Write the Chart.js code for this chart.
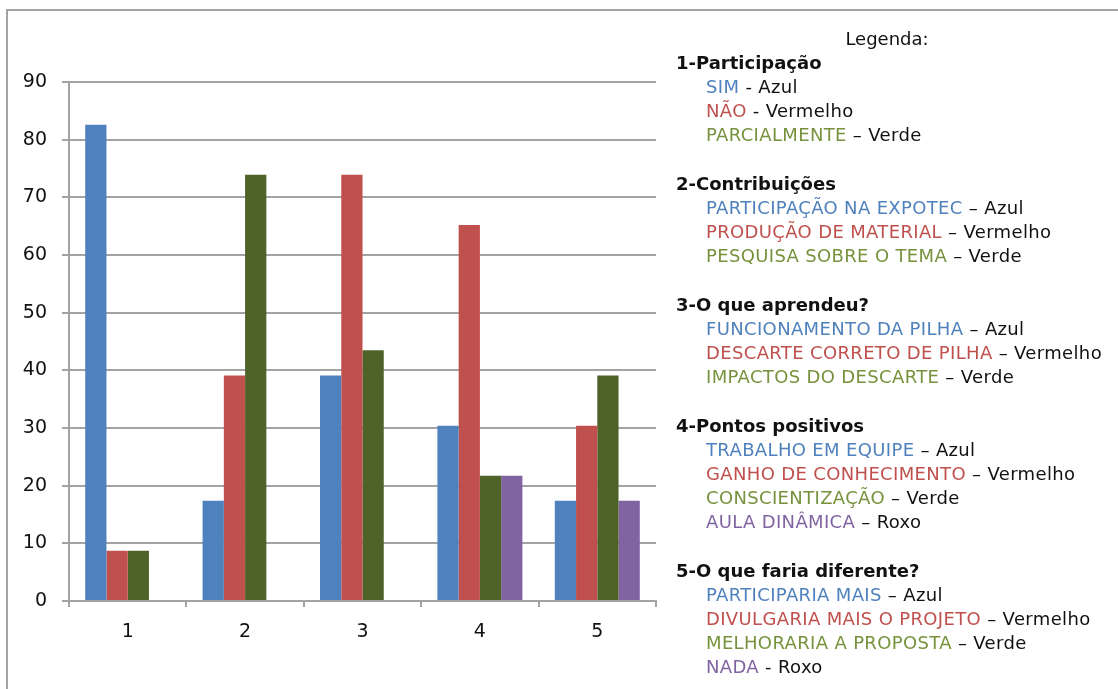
<!DOCTYPE html>
<html>
<head>
<meta charset="utf-8">
<script src="https://cdn.jsdelivr.net/npm/chart.js@4/dist/chart.umd.min.js"></script>
<style>
  html, body { margin: 0; padding: 0; background: #fff; }
  body { width: 1118px; height: 689px; position: relative; overflow: hidden; font-family: "DejaVu Sans", sans-serif; }
  #frame { position: absolute; left: 6px; top: 9px; width: 1200px; height: 800px; border-top: 2px solid #a3a3a3; border-left: 2px solid #a3a3a3; }
  #wrap { position: absolute; left: 0; top: 0; width: 1118px; height: 689px; }
  #legend { position: absolute; left: 676px; top: 27px; width: 440px; color: #111; }
  #legend .title { width: 422px; text-align: center; font-size: 18px; line-height: 24px; height: 24px; }
  #legend .head { font-weight: bold; font-size: 18px; line-height: 24px; height: 24px; }
  #legend .item { padding-left: 30px; font-size: 18px; letter-spacing: 0.35px; line-height: 24px; height: 24px; white-space: nowrap; }
  #legend .gap { height: 25px; }
</style>
</head>
<body>
<div id="frame"></div>
<div id="wrap"><canvas id="chart"></canvas></div>
<div id="legend"></div>
<script>
// categories and values (percent of 23 students)
var categories = ['1', '2', '3', '4', '5'];
var azul     = [82.6, 17.4, 39.1, 30.4, 17.4];
var vermelho = [8.7, 39.1, 73.9, 65.2, 30.4];
var verde    = [8.7, 73.9, 43.5, 21.7, 39.1];
var roxo     = [null, null, null, 21.7, 17.4];
var yTicks   = [0, 10, 20, 30, 40, 50, 60, 70, 80, 90];

// legend text
var legendTitle = 'Legenda:';
var sectionTitles = ['1-Participação', '2-Contribuições', '3-O que aprendeu?', '4-Pontos positivos', '5-O que faria diferente?'];
var sectionItems = [
    [['SIM', ' - Azul'], ['NÃO', ' - Vermelho'], ['PARCIALMENTE', ' – Verde']],
    [['PARTICIPAÇÃO NA EXPOTEC', ' – Azul'], ['PRODUÇÃO DE MATERIAL', ' – Vermelho'], ['PESQUISA SOBRE O TEMA', ' – Verde']],
    [['FUNCIONAMENTO DA PILHA', ' – Azul'], ['DESCARTE CORRETO DE PILHA', ' – Vermelho'], ['IMPACTOS DO DESCARTE', ' – Verde']],
    [['TRABALHO EM EQUIPE', ' – Azul'], ['GANHO DE CONHECIMENTO', ' – Vermelho'], ['CONSCIENTIZAÇÃO', ' – Verde'], ['AULA DINÂMICA', ' – Roxo']],
    [['PARTICIPARIA MAIS', ' – Azul'], ['DIVULGARIA MAIS O PROJETO', ' – Vermelho'], ['MELHORARIA A PROPOSTA', ' – Verde'], ['NADA', ' - Roxo']]
];

var barColors  = ['#4f81bd', '#c0504d', '#4f6228', '#8064a2'];
var textColors = ['#4f81bd', '#c0504d', '#76923c', '#8064a2'];

function buildLegend() {
    var el = document.getElementById('legend');
    var html = '<div class="title">' + legendTitle + '</div>';
    sectionTitles.forEach(function(t, i) {
        if (i > 0) html += '<div class="gap"></div>';
        html += '<div class="head">' + t + '</div>';
        sectionItems[i].forEach(function(it, j) {
            html += '<div class="item"><span style="color:' + textColors[j] + '">' + it[0] + '</span>' + it[1] + '</div>';
        });
    });
    el.innerHTML = html;
}

window.onload = function() {
    buildLegend();

    var series = [azul, vermelho, verde, roxo];
    var names = ['Azul', 'Vermelho', 'Verde', 'Roxo'];
    var datasets = series.map(function(d, i) {
        return {
            label: names[i],
            data: d,
            backgroundColor: barColors[i],
            borderWidth: 0,
            categoryPercentage: 0.724,
            barPercentage: 1.0
        };
    });

    var ctx = document.getElementById('chart').getContext('2d');
    new Chart(ctx, {
        type: 'bar',
        data: { labels: categories, datasets: datasets },
        options: {
            responsive: true,
            maintainAspectRatio: false,
            animation: false,
            layout: { padding: { left: 0, top: 82, right: 462, bottom: 48 } },
            plugins: { legend: { display: false }, tooltip: { enabled: false } },
            scales: {
                x: {
                    grid: { display: true, drawOnChartArea: false, drawTicks: true, tickLength: 6, offset: true, color: '#a3a3a3', lineWidth: 2 },
                    border: { display: true, color: '#a3a3a3', width: 2 },
                    ticks: { color: '#111', font: { family: 'DejaVu Sans', size: 19 }, padding: 14 },
                    afterFit: function(scale) { scale.height = 40; }
                },
                y: {
                    min: 0,
                    max: 90,
                    afterBuildTicks: function(scale) {
                        scale.ticks = yTicks.map(function(v) { return { value: v }; });
                    },
                    grid: { color: '#a3a3a3', lineWidth: 2, tickLength: 7 },
                    border: { display: true, color: '#a3a3a3', width: 2 },
                    ticks: { color: '#111', font: { family: 'DejaVu Sans', size: 19 }, padding: 15 },
                    afterFit: function(scale) { scale.width = 69; }
                }
            }
        }
    });
};
</script>
</body>
</html>
